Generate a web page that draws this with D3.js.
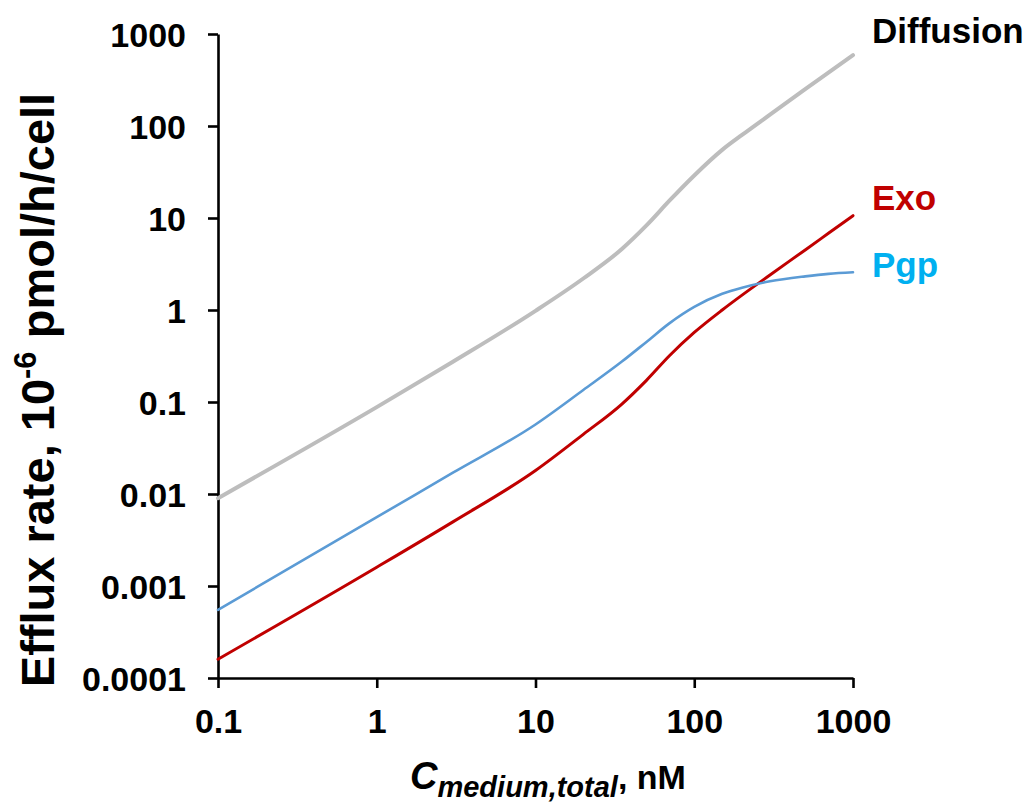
<!DOCTYPE html>
<html>
<head>
<meta charset="utf-8">
<script src="https://cdn.jsdelivr.net/npm/d3@7"></script>
<style>
  html, body { margin: 0; padding: 0; background: #fff; }
  svg { display: block; }
  text { font-family: "Liberation Sans", Arial, sans-serif; font-weight: bold; }
</style>
</head>
<body>
<svg id="chart" width="1028" height="806"></svg>
<script>
// ---- data ----
const concentration = [0.1, 1, 3, 10, 20, 35, 50, 70, 100, 150, 200, 300, 500, 700, 1000];
const diffusion = [0.0090, 0.088, 0.272, 0.98, 2.2, 4.6, 8.3, 15.5, 29, 55, 80, 133, 252, 381, 590];
const pgp       = [0.00055, 0.0056, 0.01694, 0.057, 0.135, 0.275, 0.45, 0.72, 1.08, 1.5, 1.75, 2.05, 2.32, 2.47, 2.57];
const exo       = [0.00016, 0.0016, 0.00495, 0.018, 0.0445, 0.095, 0.172, 0.32, 0.57, 1.0, 1.45, 2.4, 4.5, 6.82, 10.6];

const seriesNames = ["Diffusion", "Exo", "Pgp"];
const xTickValues = [0.1, 1, 10, 100, 1000];
const xTickLabels = ["0.1", "1", "10", "100", "1000"];
const yTickValues = [0.0001, 0.001, 0.01, 0.1, 1, 10, 100, 1000];
const yTickLabels = ["0.0001", "0.001", "0.01", "0.1", "1", "10", "100", "1000"];

// ---- layout ----
const svg = d3.select("#chart");
const plotLeft = 218, plotRight = 853, plotTop = 34, plotBottom = 678;

const x = d3.scaleLog().domain([0.1, 1000]).range([plotLeft, plotRight]);
const y = d3.scaleLog().domain([0.0001, 1000]).range([plotBottom, plotTop]);

// axes
const xAxis = d3.axisBottom(x).tickValues(xTickValues)
  .tickFormat((d, i) => xTickLabels[i]).tickSizeInner(10).tickSizeOuter(0).tickPadding(21);
const yAxis = d3.axisLeft(y).tickValues(yTickValues)
  .tickFormat((d, i) => yTickLabels[i]).tickSizeInner(10).tickSizeOuter(0).tickPadding(22);

const gx = svg.append("g").attr("transform", `translate(0,${plotBottom})`).call(xAxis);
const gy = svg.append("g").attr("transform", `translate(${plotLeft},0)`).call(yAxis);

[gx, gy].forEach(g => {
  g.select(".domain").attr("stroke", "#000").attr("stroke-width", 2.6);
  g.selectAll(".tick line").attr("stroke", "#000").attr("stroke-width", 2.6);
  g.selectAll(".tick text").attr("fill", "#000")
    .style("font-size", "34px").style("font-family", '"Liberation Sans", Arial, sans-serif')
    .style("font-weight", "bold");
});
gy.selectAll(".tick text").attr("dy", "0.36em");
gx.selectAll(".tick text").attr("dy", "0.71em");

// lines
const colors = { Diffusion: "#BDBDBD", Exo: "#C00000", Pgp: "#5B9BD5" };
const widths = { Diffusion: 4, Exo: 3, Pgp: 2.6 };
const values = { Diffusion: diffusion, Exo: exo, Pgp: pgp };

const line = d3.line()
  .x(d => x(d[0]))
  .y(d => y(d[1]))
  .curve(d3.curveMonotoneX);

seriesNames.forEach(name => {
  const pts = concentration.map((c, i) => [c, values[name][i]]);
  svg.append("path")
    .attr("d", line(pts))
    .attr("fill", "none")
    .attr("stroke", colors[name])
    .attr("stroke-width", widths[name])
    .attr("stroke-linecap", "round")
    .attr("stroke-linejoin", "round");
});

// series labels
const labelColors = { Diffusion: "#000000", Exo: "#C00000", Pgp: "#00B0F0" };
const labelBaseline = { Diffusion: 43, Exo: 210, Pgp: 277 };
seriesNames.forEach(name => {
  svg.append("text")
    .attr("x", 872)
    .attr("y", labelBaseline[name])
    .attr("fill", labelColors[name])
    .style("font-size", "35px")
    .text(name);
});

// x axis title
const xt = svg.append("text")
  .attr("x", 410).attr("y", 789).attr("fill", "#000");
xt.append("tspan").style("font-size", "38px").style("font-style", "italic").text("C");
xt.append("tspan").style("font-size", "29px").style("font-style", "italic").attr("dy", 8).text("medium,total");
xt.append("tspan").style("font-size", "34px").attr("dy", -8).text(", nM");

// y axis title
const yt = svg.append("text")
  .attr("transform", "translate(54,390) rotate(-90)")
  .attr("text-anchor", "middle")
  .attr("fill", "#000")
  .style("font-size", "47px");
yt.append("tspan").text("Efflux rate, 10");
yt.append("tspan").style("font-size", "31px").attr("dy", -18).text("-6");
yt.append("tspan").attr("dy", 18).text(" pmol/h/cell");
</script>
</body>
</html>
